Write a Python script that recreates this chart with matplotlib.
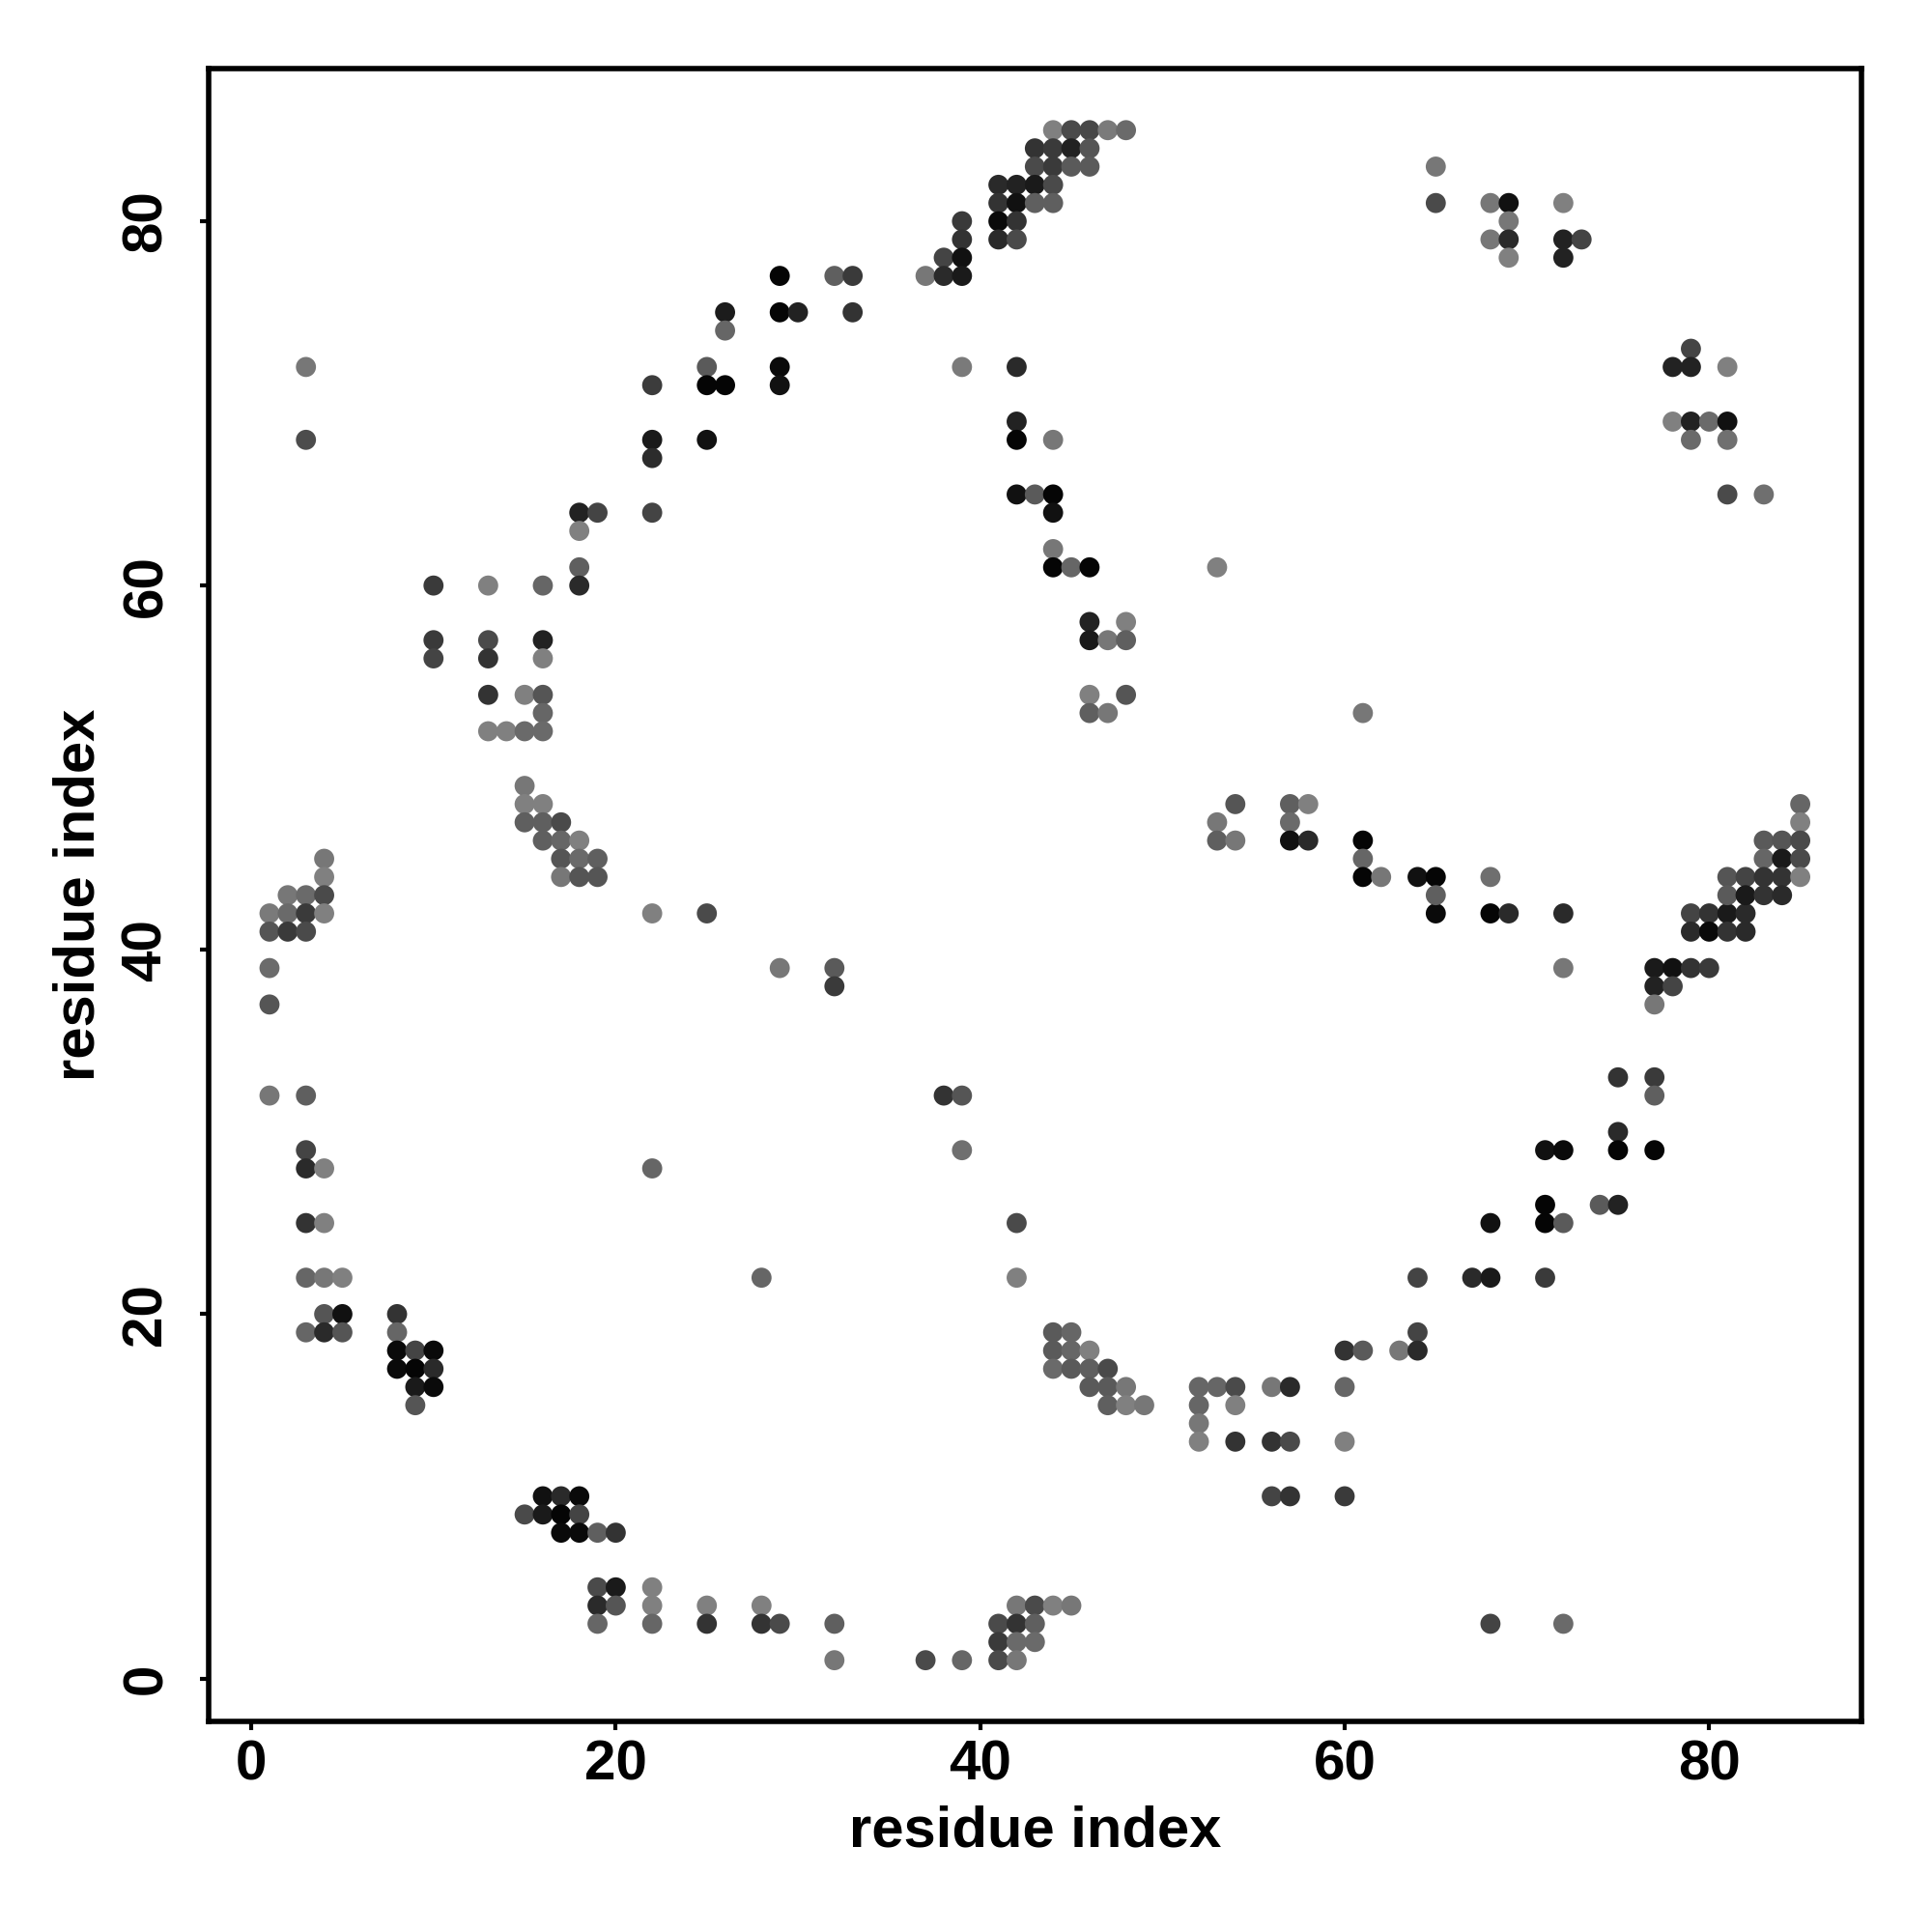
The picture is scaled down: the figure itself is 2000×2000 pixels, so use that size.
import matplotlib
matplotlib.use("Agg")
import matplotlib.pyplot as plt

# contact list: residue i (x), residue j (y), gray level of the dot (0 = black, 255 = white)
res_i = [
    26, 26, 3, 25, 22, 25, 26, 3, 22, 22, 25,
    44, 45, 46, 47, 48, 43, 44, 45, 46, 43, 44, 45, 46, 41, 42, 43, 44, 41, 42, 43, 44,
    39, 41, 42, 39, 41, 42, 38, 39, 29, 32, 33, 37, 38, 39, 29, 30, 33, 29, 39, 42, 29, 42, 42, 44,
    65, 65, 68, 69, 72, 69, 68, 69, 72, 73, 69, 72, 79, 78, 79, 81, 78, 79, 80, 81, 79, 81,
    18, 19, 22, 18, 18, 10, 13, 16, 18, 10, 13, 16, 10, 13, 16, 13, 15, 16, 16, 13, 14, 15, 16,
    15, 15, 16, 15, 16, 17, 16, 17, 18, 17, 18, 19, 17, 18, 19, 4, 4, 2, 3, 4,
    1, 2, 3, 4, 1, 2, 3, 22, 25, 1, 1, 1, 3, 3, 3, 4, 22, 3, 4, 3, 4, 5, 28,
    4, 5, 8, 3, 4, 5, 8, 8, 9, 10, 8, 9, 10, 9, 10, 9, 16, 17, 18, 15, 16, 17, 18,
    17, 18, 19, 20, 19, 20, 22, 19, 20, 22, 25, 28, 19, 22, 25, 28,
    44, 45, 44, 45, 46, 44, 45, 46, 47, 46, 47, 48, 52, 53, 54, 56, 57, 47, 48, 49, 52, 54,
    52, 52, 54, 56, 57, 56, 57, 42, 43, 44, 45, 29, 32, 41, 42, 43, 41, 42, 43, 32, 37, 39, 41, 42,
    64, 60, 61, 63, 64, 60, 60, 60, 68, 72,
    65, 68, 69, 72, 79, 80, 81, 82, 79, 80, 81, 82, 72, 77, 78, 79, 80, 77, 78, 77,
    75, 77, 77, 75, 71, 72, 75, 77, 71, 74, 75, 68, 71, 72, 64, 67, 68, 71,
    29, 32, 32, 38, 39, 39, 42, 42,
    42, 43, 44, 44, 44, 44, 45, 46, 53, 46, 48, 46, 47, 48, 46, 48, 46, 47,
    54, 57, 58, 53, 57, 53, 54, 57, 58,
    81, 83, 61, 85, 85, 61, 83, 84, 85, 61, 83, 84, 85,
    61, 62, 64, 65, 68, 81, 82, 83, 84, 85, 65, 81, 82, 83, 84,
]
res_j = [
    75, 74, 72, 72, 71, 71, 71, 68, 68, 67, 68,
    85, 85, 85, 85, 85, 84, 84, 84, 84, 83, 83, 83, 83, 82, 82, 82, 82, 81, 81, 81, 81,
    80, 80, 80, 79, 79, 79, 78, 78, 77, 77, 77, 77, 77, 77, 75, 75, 75, 72, 72, 72, 71, 69, 68, 68,
    83, 81, 81, 81, 81, 80, 79, 79, 79, 79, 78, 78, 73, 72, 72, 72, 69, 69, 69, 69, 68, 68,
    64, 64, 64, 63, 61, 60, 60, 60, 60, 57, 57, 57, 56, 56, 56, 54, 54, 54, 53, 52, 52, 52, 52,
    49, 48, 48, 47, 47, 47, 46, 46, 46, 45, 45, 45, 44, 44, 44, 45, 44, 43, 43, 43,
    42, 42, 42, 42, 41, 41, 41, 42, 42, 39, 37, 32, 32, 29, 28, 28, 28, 25, 25, 22, 22, 22, 22,
    20, 20, 20, 19, 19, 19, 19, 18, 18, 18, 17, 17, 17, 16, 16, 15, 10, 10, 10, 9, 9, 9, 9,
    8, 8, 8, 8, 5, 5, 5, 4, 4, 4, 4, 4, 3, 3, 3, 3,
    19, 19, 18, 18, 18, 17, 17, 17, 17, 16, 16, 16, 16, 16, 16, 16, 16, 15, 15, 15, 15, 15,
    14, 13, 13, 13, 13, 10, 10, 4, 4, 4, 4, 3, 3, 3, 3, 3, 2, 2, 2, 1, 1, 1, 1, 1,
    19, 18, 18, 18, 18, 16, 13, 10, 3, 3,
    42, 42, 42, 42, 42, 42, 42, 42, 41, 41, 41, 41, 39, 39, 39, 39, 39, 38, 38, 37,
    33, 33, 32, 30, 29, 29, 29, 29, 26, 26, 26, 25, 25, 25, 22, 22, 22, 22,
    39, 39, 38, 32, 32, 29, 25, 22,
    65, 65, 65, 64, 62, 61, 61, 61, 61, 58, 58, 57, 57, 57, 54, 54, 53, 53,
    48, 48, 48, 47, 47, 46, 46, 46, 46,
    65, 65, 53, 48, 47, 46, 46, 46, 46, 45, 45, 45, 45,
    44, 44, 44, 44, 44, 44, 44, 44, 44, 44, 43, 43, 43, 43, 43,
]
gray = [
    28, 102, 119, 90, 60, 5, 5, 76, 26, 44, 17,
    128, 74, 72, 122, 106, 51, 58, 34, 85, 74, 58, 90, 90, 42, 34, 26, 74, 51, 17, 95, 95,
    58, 10, 51, 51, 42, 74, 68, 17, 5, 95, 58, 119, 42, 26, 5, 34, 51, 10, 122, 42, 17, 34, 5, 119,
    119, 74, 119, 17, 128, 119, 119, 42, 34, 68, 128, 34, 68, 34, 34, 128, 128, 34, 106, 17, 106, 112,
    34, 68, 68, 128, 95, 58, 128, 102, 42, 58, 74, 34, 68, 51, 128, 51, 128, 85, 102, 128, 128, 106, 106,
    119, 128, 128, 95, 95, 74, 95, 102, 128, 85, 106, 95, 119, 85, 85, 119, 128, 119, 106, 74,
    122, 106, 58, 128, 85, 58, 74, 128, 74, 107, 85, 119, 95, 68, 42, 128, 102, 51, 128, 102, 119, 128, 102,
    85, 17, 51, 102, 42, 85, 102, 10, 68, 10, 10, 5, 42, 26, 10, 85, 17, 42, 10, 74, 26, 5, 68,
    10, 10, 95, 51, 74, 26, 128, 42, 85, 128, 128, 128, 102, 102, 51, 51,
    90, 102, 90, 102, 128, 106, 90, 95, 74, 90, 90, 119, 102, 102, 74, 119, 42, 95, 128, 119, 102, 128,
    119, 128, 51, 51, 74, 68, 51, 119, 74, 128, 119, 74, 95, 74, 51, 95, 58, 106, 106, 119, 74, 102, 74, 119,
    68, 51, 90, 119, 42, 102, 128, 58, 68, 106,
    10, 5, 42, 42, 68, 51, 26, 42, 42, 10, 51, 42, 119, 26, 17, 51, 58, 34, 68, 119,
    51, 58, 95, 42, 17, 10, 5, 5, 5, 90, 34, 17, 5, 90, 68, 42, 26, 58,
    119, 90, 58, 51, 85, 111, 74, 128,
    17, 90, 5, 17, 119, 5, 102, 5, 128, 34, 128, 26, 119, 95, 128, 85, 95, 119,
    85, 95, 128, 119, 106, 95, 119, 17, 42,
    74, 111, 119, 102, 128, 5, 90, 85, 74, 102, 102, 26, 74,
    5, 119, 17, 5, 111, 85, 68, 51, 51, 128, 95, 90, 26, 51, 42,
]

tick_values = [0, 20, 40, 60, 80]
axis_label = "residue index"

plt.rcParams['font.family'] = ['Liberation Sans', 'DejaVu Sans']
plt.rcParams['font.weight'] = 'bold'

fig = plt.figure(figsize=(10, 10), dpi=200)
ax = fig.add_axes([0.1078, 0.109, 0.8557, 0.8553])

colors = [(g / 255.0, g / 255.0, g / 255.0) for g in gray]
ax.scatter(res_i, res_j, s=56, c=colors, linewidths=0, zorder=3)

ax.set_xlim(-2.36, 88.36)
ax.set_ylim(-2.36, 88.36)
ax.set_xticks(tick_values)
ax.set_yticks(tick_values)
ax.set_xticklabels([str(t) for t in tick_values], fontsize=21, fontweight='bold')
ax.set_yticklabels([str(t) for t in tick_values], fontsize=21, fontweight='bold',
                   rotation=90, va='center')
ax.tick_params(axis='x', direction='out', length=3.2, width=1.5, pad=3.5, colors='black')
ax.tick_params(axis='y', direction='out', length=3.2, width=1.5, pad=10, colors='black')
for sp in ax.spines.values():
    sp.set_linewidth(2.0)
    sp.set_color('black')

ax.set_xlabel(axis_label, fontsize=21.5, fontweight='bold', labelpad=5)
ax.set_ylabel(axis_label, fontsize=21.5, fontweight='bold', labelpad=5.5)

fig.savefig("out.png", dpi=200, facecolor='white')
